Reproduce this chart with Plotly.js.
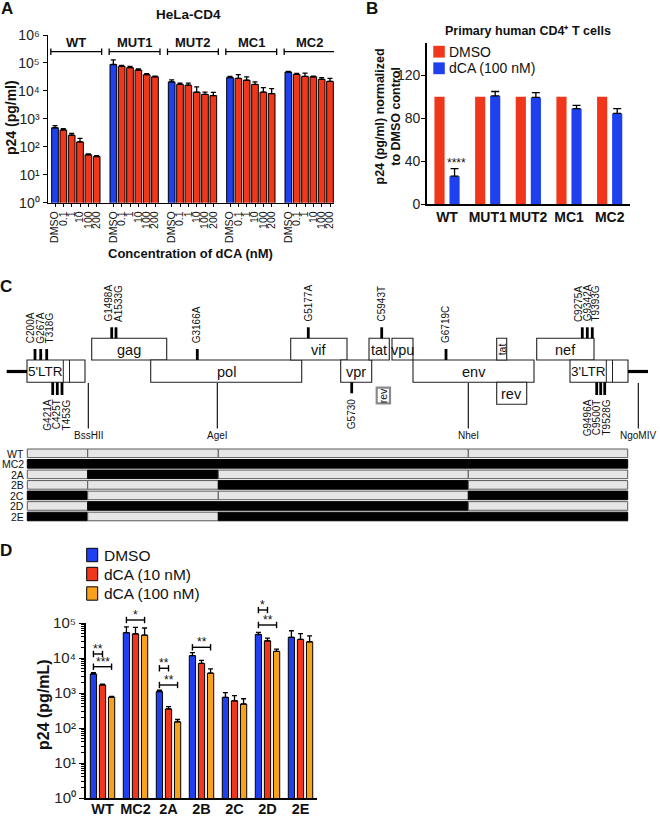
<!DOCTYPE html>
<html><head><meta charset="utf-8">
<script src="https://cdn.plot.ly/plotly-3.0.1.min.js"></script>
<style>html,body{margin:0;padding:0;background:#fff}#chart{width:660px;height:818px}</style>
</head><body><div id="chart"></div>
<script>
// ================= DATA =================
// Panel A – HeLa-CD4, p24 (pg/ml) per dCA concentration
const aGroups = ['WT','MUT1','MUT2','MC1','MC2'];
const aDoses  = ['DMSO','0.1','1','10','100','200'];
const aWT     = [480, 400, 260, 150, 52, 45];
const aMUT1   = [88000, 76000, 68000, 56000, 38000, 32000];
const aMUT2   = [21000, 17000, 16000, 9000, 7500, 6800];
const aMC1    = [30000, 28000, 24000, 17000, 9000, 8000];
const aMC2    = [47000, 39000, 33000, 32000, 26000, 22000];
const aWTerr   = [90, 50, 40, 50, 4, 3];
const aMUT1err = [40000, 6000, 8000, 5000, 3000, 2000];
const aMUT2err = [4000, 2000, 3000, 5000, 1500, 2000];
const aMC1err  = [3000, 10000, 8000, 4000, 4000, 4000];
const aMC2err  = [3000, 3000, 10000, 2000, 4000, 6000];

// Panel B – primary CD4+ T cells, normalized to DMSO
const bCats    = ['WT','MUT1','MUT2','MC1','MC2'];
const bDMSO    = [100, 100, 100, 100, 100];
const bDCA     = [26, 101, 99.5, 89, 84.5];
const bDCAerr  = [7, 4, 4.5, 3, 4.5];

// Panel C – genome map and chimeras
const cGenes  = ["5'LTR",'gag','pol','vif','vpr','tat','vpu','env','tat','rev','rev','nef',"3'LTR"];
const cStart  = [27, 91.7, 150.7, 290.7, 340.7, 369, 392, 413, 496.7, 376.7, 496.7, 536.7, 570];
const cEnd    = [85, 166.7, 301.7, 347, 371.7, 389.3, 413, 534, 506.7, 390, 526.7, 594, 628];
const cRow    = [1, 0, 1, 0, 1, 0, 0, 1, 0, 3, 2, 0, 1];
const cMutUp      = ['C200A','G267A','T318G','G1498A','A1533G','G3166A','G5177A','C5943T','G6719C','C9275A','G9342A','T9393G'];
const cMutUpPos   = [35, 40.7, 46.7, 111.7, 116, 197.3, 308.3, 381.7, 446, 582.3, 587.3, 592.3];
const cMutDown    = ['G421A','C425T','T453G','G5730','G9496A','C9500T','T9528G'];
const cMutDownPos = [52.7, 57.3, 62, 351.7, 596.7, 600.7, 604.7];
const cSites      = ['BssHII','AgeI','NheI','NgoMIV'];
const cSitePos    = [88.3, 217.3, 468.3, 638.3];
const chimeraNames = ['WT','MC2','2A','2B','2C','2D','2E'];
// 1 = MC2 sequence (black), 0 = WT sequence (grey), per segment between sites
const chimeraSegs  = [[0,0,0,0],[1,1,1,1],[0,1,0,0],[0,0,1,0],[1,0,0,1],[0,1,1,0],[1,0,1,1]];
const segBounds    = [27.3, 87.7, 218.3, 468.3, 627.7];

// Panel D – chimeras, p24 (pg/mL)
const dCats      = ['WT','MC2','2A','2B','2C','2D','2E'];
const dSeries    = ['DMSO','dCA (10 nM)','dCA (100 nM)'];
const dDMSO      = [3500, 53000, 1100, 11700, 750, 47000, 39000];
const dDCA10     = [1700, 49000, 350, 7000, 600, 31000, 34000];
const dDCA100    = [760, 45000, 150, 3700, 485, 15500, 29000];
const dDMSOerr   = [300, 25000, 100, 2500, 270, 7000, 21000];
const dDCA10err  = [100, 26000, 60, 1600, 240, 6000, 16000];
const dDCA100err = [40, 27000, 25, 1200, 200, 2500, 14000];
const sigCat  = [0, 0, 1, 2, 2, 3, 5, 5];
const sigFrom = [0, 0, 0, 0, 0, 0, 0, 0];
const sigTo   = [1, 2, 2, 1, 2, 2, 1, 2];
const sigText = ['**','***','*','**','**','**','*','**'];

// ================= STYLE / LAYOUT =================
const W = 660, H = 818;
const px = v => v / W, py = v => 1 - v / H;
const FONT = 'Liberation Sans, Arial, Helvetica, sans-serif';
const BLUE = '#1f40ee', RED = '#f0361b', ORANGE = '#f7a11c', INK = '#111';
const SUP = ['⁰','¹','²','³','⁴','⁵','⁶'];
const shapes = [], ann = [];
function T(text, x, y, o) {
  o = o || {};
  ann.push({text, x: px(x), y: py(y), xref: 'paper', yref: 'paper', showarrow: false,
    xanchor: o.xa || 'center', yanchor: o.ya || 'middle', textangle: o.ang || 0,
    font: {family: FONT, size: o.size || 12, color: o.color || INK, weight: o.bold ? 'bold' : 'normal'}});
}
function L(x0, y0, x1, y1, w, c, xref) {
  shapes.push({type: 'line', xref: xref || 'paper', yref: 'paper',
    x0: xref ? x0 : px(x0), x1: xref ? x1 : px(x1), y0: py(y0), y1: py(y1),
    line: {color: c || '#000', width: w || 1}});
}
function R(x0, y0, x1, y1, fill, lc, lw) {
  shapes.push({type: 'rect', xref: 'paper', yref: 'paper', x0: px(x0), x1: px(x1), y0: py(y0), y1: py(y1),
    fillcolor: fill, line: {color: lc || '#000', width: lw === undefined ? 1 : lw}});
}
const logTicks = n => Array.from({length: n + 1}, (_, k) => Math.pow(10, k));
const logText  = n => Array.from({length: n + 1}, (_, k) => '10' + SUP[k]);

// ---------- Panel A traces ----------
const aSeries = [aWT, aMUT1, aMUT2, aMC1, aMC2];
const aErrs   = [aWTerr, aMUT1err, aMUT2err, aMC1err, aMC2err];
const slot = aDoses.length + 1;
const aD = {x: [], y: [], e: []}, aC = {x: [], y: [], e: []};
const aTickVals = [], aTickText = [];
aSeries.forEach((vals, g) => vals.forEach((v, i) => {
  const pos = g * slot + i, tgt = i === 0 ? aD : aC;
  tgt.x.push(pos); tgt.y.push(v); tgt.e.push(aErrs[g][i]);
  aTickVals.push(pos); aTickText.push(aDoses[i]);
}));
const errStyle = (arr, w) => ({type: 'data', symmetric: false, array: arr, arrayminus: arr.map(() => 0),
  color: '#000', thickness: 1.3, width: w});
const traces = [
  {type: 'bar', name: 'DMSO', x: aD.x, y: aD.y, width: 0.8, xaxis: 'x', yaxis: 'y',
   marker: {color: BLUE, line: {color: '#000', width: 1}}, error_y: errStyle(aD.e, 2.5)},
  {type: 'bar', name: 'dCA', x: aC.x, y: aC.y, width: 0.8, xaxis: 'x', yaxis: 'y',
   marker: {color: RED, line: {color: '#000', width: 1}}, error_y: errStyle(aC.e, 2.5)},
  // Panel B
  {type: 'bar', name: 'DMSO', x: bCats, y: bDMSO, width: 0.25, offset: -0.31, xaxis: 'x2', yaxis: 'y2',
   marker: {color: RED, line: {width: 0}}},
  {type: 'bar', name: 'dCA (100 nM)', x: bCats, y: bDCA, width: 0.25, offset: 0.06, xaxis: 'x2', yaxis: 'y2',
   marker: {color: BLUE, line: {width: 0}}, error_y: errStyle(bDCAerr, 4)},
];
// Panel D
const dVals = [dDMSO, dDCA10, dDCA100], dErrs = [dDMSOerr, dDCA10err, dDCA100err], dCols = [BLUE, RED, ORANGE];
const dW = 0.19, dStep = 0.275;
dVals.forEach((vals, s) => traces.push({type: 'bar', name: dSeries[s], x: dCats, y: vals, width: dW,
  offset: (s - 1) * dStep - dW / 2, xaxis: 'x3', yaxis: 'y3',
  marker: {color: dCols[s], line: {color: '#000', width: 1}}, error_y: errStyle(dErrs[s], 2.5)}));

// ---------- Panel A decorations ----------
T('A', 7, 9, {size: 17, bold: true});
T('HeLa-CD4', 188, 15, {size: 13.5, bold: true});
aGroups.forEach((gname, g) => {
  const a = g * slot - 0.5, b = g * slot + aDoses.length - 0.4;
  L(a, 51.7, b, 51.7, 1.3, '#000', 'x'); L(a, 48.5, a, 55, 1.3, '#000', 'x'); L(b, 48.5, b, 55, 1.3, '#000', 'x');
  ann.push({text: gname, x: (a + b) / 2, xref: 'x', y: py(42.5), yref: 'paper', yanchor: 'middle', xanchor: 'center',
    showarrow: false, font: {family: FONT, size: 13, weight: 'bold', color: INK}});
});
T('p24 (pg/ml)', 11, 118, {size: 14, bold: true, ang: -90});
T('Concentration of dCA (nM)', 191, 253, {size: 13, bold: true});

// ---------- Panel B decorations ----------
T('B', 372, 8.5, {size: 17, bold: true});
T('Primary human CD4⁺ T cells', 528, 31, {size: 12.5, bold: true});
T('p24 (pg/ml) normalized<br>to DMSO control', 387.5, 117, {size: 12.5, bold: true, ang: -90});
T('****', 456.5, 163.5, {size: 12});
R(433.3, 45.8, 444.8, 57.6, RED, RED, 0);
R(433.3, 62.4, 444.8, 74.2, BLUE, BLUE, 0);
T('DMSO', 447.5, 51.8, {size: 14, xa: 'left'});
T('dCA (100 nM)', 447.5, 68.3, {size: 14, xa: 'left'});

// ---------- Panel C ----------
T('C', 6, 286, {size: 17, bold: true});
const rowY = [[338.3, 360], [360, 382.3], [382.3, 404.3], [387.7, 403.3]];
cGenes.forEach((gname, i) => {
  const [y0, y1] = rowY[cRow[i]];
  const narrow = (cEnd[i] - cStart[i]) < 16;
  if (cRow[i] === 3) R(cStart[i], y0, cEnd[i], y1, '#fff', '#8a8a8a', 2.2);
  else R(cStart[i], y0, cEnd[i], y1, '#fff', '#222', 1.1);
  const isLTR = gname.indexOf('LTR') >= 0;
  const cx = isLTR ? cStart[i] + 18.5 : (cStart[i] + cEnd[i]) / 2;
  T(gname, cx, (y0 + y1) / 2 + 0.5, {size: narrow ? 10.5 : (isLTR ? 13.5 : 14.5), ang: narrow ? -90 : 0});
  if (isLTR) { L(cStart[i] + 36.3, y0, cStart[i] + 36.3, y1, 1, '#222'); L(cStart[i] + 42.5, y0, cStart[i] + 42.5, y1, 1, '#222'); }
});
L(6.7, 371.5, 27, 371.5, 3.2); L(628, 371.5, 648, 371.5, 3.2);
// mutation ticks and labels (upper)
const upBase = [360, 360, 360, 338.3, 338.3, 360, 338.3, 338.3, 360, 338.3, 338.3, 338.3];
const upLab  = [31.2, 40.7, 50.4, 108.3, 118.6, 197.3, 308.3, 381.7, 446, 578.3, 587, 595.7];
cMutUp.forEach((m, i) => {
  L(cMutUpPos[i], upBase[i] - 11, cMutUpPos[i], upBase[i], 2.8);
  T(m, upLab[i], upBase[i] - 14.5, {size: 10, ang: -90, ya: 'bottom'});
});
const dnLen = [12.7, 12.7, 12.7, 11, 12.7, 12.7, 12.7];
const dnLab = [46.7, 56.7, 66.4, 351.7, 587.3, 596.7, 606];
cMutDown.forEach((m, i) => {
  L(cMutDownPos[i], 382.3, cMutDownPos[i], 382.3 + dnLen[i], 2.8);
  T(m, dnLab[i], 397.5, {size: 10, ang: -90, ya: 'top'});
});
cSites.forEach((s, i) => {
  L(cSitePos[i], 383, cSitePos[i], 428.5, 1.1);
  T(s, cSitePos[i], 435.3, {size: 10});
});
// chimeras
chimeraNames.forEach((nm, r) => {
  const yc = 453.3 + r * 10.53, y0 = yc - 4.3, y1 = yc + 4.3;
  chimeraSegs[r].forEach((s, k) => R(segBounds[k], y0, segBounds[k + 1], y1, s ? '#000' : '#e6e6e6', s ? '#000' : '#5a5a5a', 1));
  T(nm, 25.5, yc + 0.3, {size: 10.5, xa: 'right'});
});

// ---------- Panel D decorations ----------
T('D', 6, 550, {size: 17, bold: true});
T('p24 (pg/mL)', 43, 705, {size: 16, bold: true, ang: -90});
const dLegY = [555, 574, 593.5];
dSeries.forEach((s, k) => {
  R(86.7, dLegY[k] - 6.7, 97.7, dLegY[k] + 6.7, dCols[k], '#000', 1);
  T(s, 101.5, dLegY[k] + 0.3, {size: 15.5, xa: 'left'});
});
const sigY = [654, 666.7, 620, 668.3, 685, 647.3, 610, 625];
sigCat.forEach((c, k) => {
  const xa = c + (sigFrom[k] - 1) * dStep, xb = c + (sigTo[k] - 1) * dStep;
  [[xa, xb, sigY[k], sigY[k]], [xa, xa, sigY[k] - 3.2, sigY[k] + 3.2], [xb, xb, sigY[k] - 3.2, sigY[k] + 3.2]].forEach(s =>
    shapes.push({type: 'line', xref: 'x3', yref: 'paper', x0: s[0], x1: s[1], y0: py(s[2]), y1: py(s[3]), line: {color: '#000', width: 1.4}}));
  ann.push({text: sigText[k], x: (xa + xb) / 2, xref: 'x3', y: py(sigY[k] + 4), yref: 'paper', yanchor: 'bottom',
    showarrow: false, font: {family: FONT, size: 12, color: INK}});
});

const minorD = [];
for (let k = 0; k < 5; k++) for (let m = 2; m <= 9; m++) minorD.push(m * Math.pow(10, k));

const axBase = {showgrid: false, zeroline: false, showline: true, linecolor: '#000', fixedrange: true,
  tickcolor: '#000', tickfont: {family: FONT, color: INK}};
const layout = {
  width: W, height: H, margin: {l: 0, r: 0, t: 0, b: 0}, paper_bgcolor: '#fff', plot_bgcolor: 'rgba(0,0,0,0)',
  showlegend: false, barmode: 'overlay', font: {family: FONT, color: INK},
  xaxis: Object.assign({}, axBase, {domain: [px(48), px(334)], range: [-0.84, 33.48], anchor: 'y',
    tickvals: aTickVals, ticktext: aTickText, tickangle: -90, ticks: 'outside', ticklen: 3, linewidth: 1.5,
    tickfont: {family: FONT, size: 10.5, color: INK}}),
  yaxis: Object.assign({}, axBase, {domain: [py(202.7), py(35)], type: 'log', range: [0, 6], anchor: 'x',
    tickvals: logTicks(6), ticktext: logText(6), ticks: 'outside', ticklen: 4, linewidth: 1.5,
    tickfont: {family: FONT, size: 14, color: '#222'}}),
  xaxis2: Object.assign({}, axBase, {domain: [px(426.7), px(630)], type: 'category', range: [-0.5, 4.5], anchor: 'y2',
    ticks: '', linewidth: 1.5, tickfont: {family: FONT, size: 14, weight: 'bold', color: INK}}),
  yaxis2: Object.assign({}, axBase, {domain: [py(204), py(43.3)], range: [0, 150], anchor: 'x2',
    tickvals: [0, 40, 80, 120], ticks: 'outside', ticklen: 4, linewidth: 1.5, ticklabelstandoff: -2,
    tickfont: {family: FONT, size: 14, color: '#222'}}),
  xaxis3: Object.assign({}, axBase, {domain: [px(86), px(317)], type: 'category', range: [-0.5, 6.5], anchor: 'y3',
    ticks: '', linewidth: 2, ticklabelstandoff: -3, tickfont: {family: FONT, size: 14.5, weight: 'bold', color: INK}}),
  yaxis3: Object.assign({}, axBase, {domain: [py(798), py(623)], type: 'log', range: [0, 5], anchor: 'x3',
    tickvals: logTicks(5), ticktext: logText(5), ticks: 'outside', ticklen: 5, linewidth: 2,
    minor: {tickvals: minorD, ticks: 'outside', ticklen: 3, tickcolor: '#000'},
    tickfont: {family: FONT, size: 15, color: '#222'}}),
  shapes, annotations: ann
};
Plotly.newPlot('chart', traces, layout, {staticPlot: true, displayModeBar: false});
</script></body></html>
